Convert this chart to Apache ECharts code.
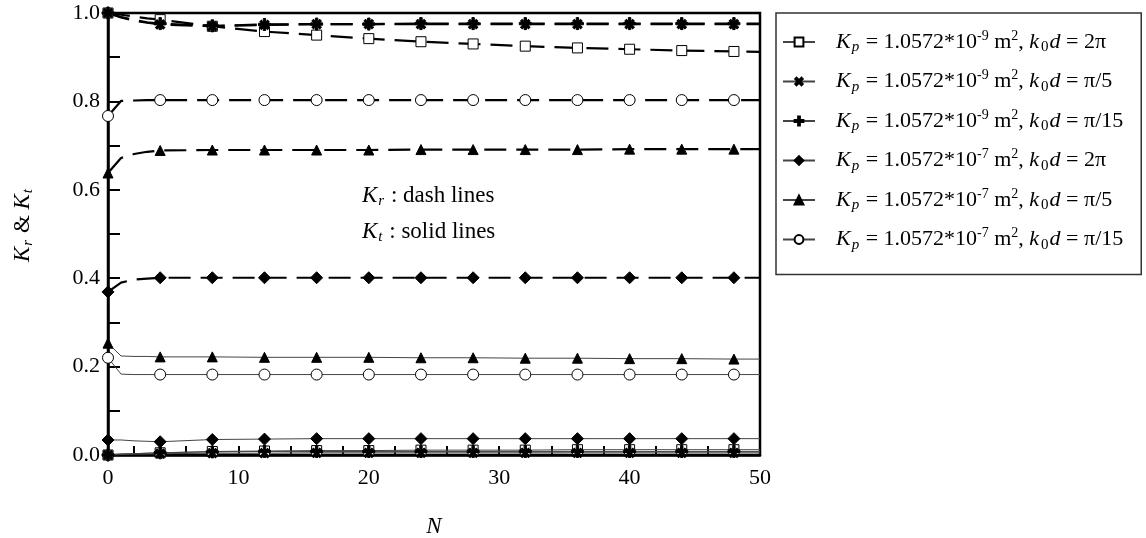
<!DOCTYPE html>
<html>
<head>
<meta charset="utf-8">
<script src="https://cdn.jsdelivr.net/npm/echarts@6/dist/echarts.min.js"></script>
<style>html,body{margin:0;padding:0;background:#fff;}#chart{width:1146px;height:538px;}</style>
</head>
<body>
<div id="chart"></div>
<script>
// ---- data ----
const N = [0, 1, 2, 3, 4, 8, 12, 16, 20, 24, 28, 32, 36, 40, 44, 48, 50];
const kpExp = ['-9', '-9', '-9', '-7', '-7', '-7'];
const kdLabel = ['2π', 'π/5', 'π/15', '2π', 'π/5', 'π/15'];
const yTicks = [0, 0.2, 0.4, 0.6, 0.8, 1.0];
const xTicks = [0, 10, 20, 30, 40, 50];
// K_r (dash lines)
const krSquare   = [1.000, 0.996, 0.992, 0.988, 0.985, 0.970, 0.958, 0.950, 0.942, 0.935, 0.930, 0.925, 0.921, 0.918, 0.915, 0.913, 0.912];
const krCross    = [1.000, 0.990, 0.983, 0.978, 0.974, 0.970, 0.973, 0.975, 0.975, 0.975, 0.975, 0.975, 0.975, 0.975, 0.975, 0.975, 0.975];
const krPlus     = [1.000, 0.991, 0.984, 0.979, 0.976, 0.971, 0.974, 0.975, 0.975, 0.976, 0.976, 0.976, 0.976, 0.976, 0.976, 0.976, 0.976];
const krDiamond  = [0.369, 0.390, 0.397, 0.399, 0.401, 0.401, 0.401, 0.401, 0.401, 0.401, 0.401, 0.401, 0.401, 0.401, 0.401, 0.401, 0.401];
const krTriangle = [0.638, 0.672, 0.681, 0.686, 0.689, 0.690, 0.690, 0.690, 0.690, 0.691, 0.691, 0.691, 0.691, 0.692, 0.692, 0.692, 0.692];
const krCircle   = [0.767, 0.801, 0.802, 0.803, 0.803, 0.803, 0.803, 0.803, 0.803, 0.803, 0.803, 0.803, 0.803, 0.803, 0.803, 0.803, 0.803];
// K_t (solid lines)
const ktSquare   = [0.000, 0.002, 0.003, 0.004, 0.005, 0.008, 0.009, 0.010, 0.010, 0.011, 0.011, 0.011, 0.012, 0.012, 0.012, 0.012, 0.012];
const ktCross    = [0.000, 0.001, 0.002, 0.002, 0.003, 0.004, 0.004, 0.005, 0.005, 0.005, 0.005, 0.005, 0.005, 0.005, 0.005, 0.005, 0.005];
const ktPlus     = [0.000, 0.002, 0.003, 0.004, 0.005, 0.007, 0.008, 0.008, 0.008, 0.008, 0.008, 0.008, 0.008, 0.008, 0.008, 0.008, 0.008];
const ktDiamond  = [0.034, 0.034, 0.032, 0.031, 0.030, 0.035, 0.036, 0.037, 0.037, 0.037, 0.037, 0.037, 0.037, 0.037, 0.037, 0.037, 0.037];
const ktTriangle = [0.253, 0.224, 0.223, 0.223, 0.222, 0.222, 0.221, 0.221, 0.221, 0.220, 0.220, 0.219, 0.219, 0.218, 0.218, 0.217, 0.217];
const ktCircle   = [0.220, 0.183, 0.182, 0.182, 0.182, 0.182, 0.182, 0.182, 0.182, 0.182, 0.182, 0.182, 0.182, 0.182, 0.182, 0.182, 0.182];

const krAll = [krSquare, krCross, krPlus, krDiamond, krTriangle, krCircle];
const ktAll = [ktSquare, ktCross, ktPlus, ktDiamond, ktTriangle, ktCircle];

// ---- styles ----
const F = '"Liberation Serif", "DejaVu Serif", serif';
const PLUS = 'path://M4,0H6V4H10V6H6V10H4V6H0V4H4Z';
const markers = [
  {symbol: 'rect', size: 10, fill: '#fff', rotate: 0},
  {symbol: PLUS, size: 11, fill: '#000', rotate: 45},
  {symbol: PLUS, size: 12, fill: '#000', rotate: 0},
  {symbol: 'diamond', size: 12, fill: '#000', rotate: 0},
  {symbol: 'triangle', size: 10, fill: '#000', rotate: 0},
  {symbol: 'circle', size: 11, fill: '#fff', rotate: 0}
];
const names = kpExp.map((e, i) => 'Kp = 1.0572*10^' + e + ' m2, k0d = ' + kdLabel[i]);

function makeRich(fs) {
  return {
    n:   {fontFamily: F, fontSize: fs, color: '#000', lineHeight: 26},
    i:   {fontFamily: F, fontSize: fs, fontStyle: 'italic', color: '#000', lineHeight: 26},
    sub: {fontFamily: F, fontSize: 15, fontStyle: 'italic', color: '#000', verticalAlign: 'bottom', padding: [0, 1, 0, 1]},
    s0:  {fontFamily: F, fontSize: 15, color: '#000', verticalAlign: 'bottom', padding: [0, 1, 0, 2]},
    sup: {fontFamily: F, fontSize: 14, color: '#000', verticalAlign: 'top'},
    g:   {width: 16, fontSize: 4}
  };
}
const rich = makeRich(23);
const legRich = makeRich(22);

function legendRich(name) {
  const i = names.indexOf(name);
  return '{g| }{i|K}{sub|p}{n| = 1.0572*10}{sup|' + kpExp[i] + '}{n| m}{sup|2}{n|, }{i|k}{s0|0}{i|d}{n| = ' + kdLabel[i] + '}';
}

const pts = arr => arr.map((v, k) => [N[k], v]);
const symSize = base => (v => (v[0] % 4 === 0 && v[0] <= 48) ? base : 0);

const series = [];
ktAll.forEach((arr, i) => {
  const m = markers[i];
  series.push({
    name: names[i], type: 'line', data: pts(arr), clip: false,
    symbol: m.symbol, symbolRotate: m.rotate, symbolSize: symSize(m.size), showAllSymbol: true,
    lineStyle: {color: '#444', width: 1, type: 'solid'},
    itemStyle: {color: m.fill, borderColor: '#000', borderWidth: 1},
    emphasis: {disabled: true}, animation: false, z: 2
  });
});
krAll.forEach((arr, i) => {
  const m = markers[i];
  series.push({
    name: names[i], type: 'line', data: pts(arr), clip: false,
    symbol: m.symbol, symbolRotate: m.rotate, symbolSize: symSize(m.size), showAllSymbol: true,
    lineStyle: {color: '#000', width: 2.2, type: [22, 10]},
    itemStyle: {color: m.fill, borderColor: '#000', borderWidth: 1},
    emphasis: {disabled: true}, animation: false, z: 3
  });
});

const chart = echarts.init(document.getElementById('chart'), null, {renderer: 'canvas'});
chart.setOption({
  backgroundColor: '#fff',
  animation: false,
  grid: {left: 108, top: 13, right: 386, bottom: 83, show: true, borderColor: '#000', borderWidth: 2.5,
         backgroundColor: 'transparent', outerBoundsMode: 'none', containLabel: false},
  xAxis: {
    type: 'value', min: xTicks[0], max: xTicks[xTicks.length - 1], interval: 10,
    name: 'N', nameLocation: 'middle', nameGap: 60,
    nameTextStyle: {fontFamily: F, fontSize: 23, fontStyle: 'italic', color: '#000'},
    axisLine: {lineStyle: {color: '#000', width: 2.5}},
    axisTick: {inside: true, length: 9, lineStyle: {color: '#000', width: 2}},
    minorTick: {show: true, splitNumber: 5, length: 9, lineStyle: {color: '#000', width: 2}},
    splitLine: {show: false},
    axisLabel: {fontFamily: F, fontSize: 22, color: '#000', margin: 12}
  },
  yAxis: {
    type: 'value', min: yTicks[0], max: yTicks[yTicks.length - 1], interval: 0.2,
    name: '{i|K}{sub|r}{n| & }{i|K}{sub|t}', nameLocation: 'middle', nameGap: 72, nameRotate: 90,
    nameTextStyle: {rich: rich, padding: [0, 0, 0, 18]},
    axisLine: {lineStyle: {color: '#000', width: 2.5}},
    axisTick: {inside: true, length: 12, lineStyle: {color: '#000', width: 2}},
    minorTick: {show: true, splitNumber: 2, length: 12, lineStyle: {color: '#000', width: 2}},
    splitLine: {show: false},
    axisLabel: {fontFamily: F, fontSize: 22, color: '#000', margin: 8, formatter: v => v.toFixed(1)}
  },
  legend: {
    data: names, orient: 'vertical', left: 776, top: 13,
    padding: [16, 18, 22, 6], itemGap: 13.5, itemWidth: 32, itemHeight: 11,
    borderColor: '#333', borderWidth: 1.5,
    formatter: legendRich,
    textStyle: {rich: legRich},
    selectedMode: false
  },
  graphic: [
    {type: 'text', left: 362, top: 184, style: {rich: rich, text: '{i|K}{sub|r}{n| : dash lines}'}},
    {type: 'text', left: 362, top: 220, style: {rich: rich, text: '{i|K}{sub|t}{n| : solid lines}'}}
  ],
  series: series
});
</script>
</body>
</html>
